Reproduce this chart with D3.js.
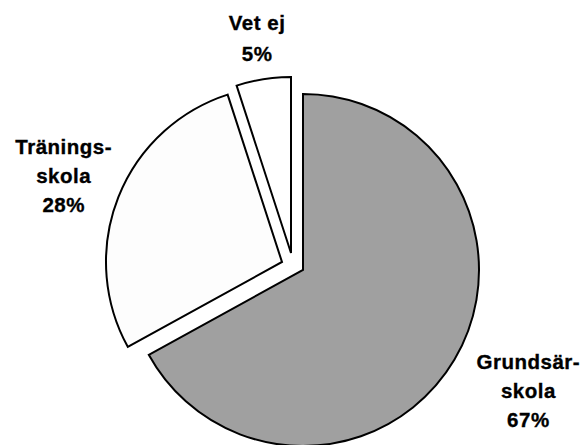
<!DOCTYPE html>
<html>
<head>
<meta charset="utf-8">
<script src="https://cdn.jsdelivr.net/npm/d3@7"></script>
<style>
  html, body { margin: 0; padding: 0; background: #fff; }
  svg { display: block; }
  text { font-family: "Liberation Sans", Arial, sans-serif; font-weight: bold; font-size: 20.5px; letter-spacing: 0.5px; fill: #000; stroke: #000; stroke-width: 0.35px; }
</style>
</head>
<body>
<script>
// ---- data ----
const categories = ["Grundsärskola", "Träningsskola", "Vet ej"];
const values = [67, 28, 5];
const labelLines = [["Grundsär-", "skola", "67%"], ["Tränings-", "skola", "28%"], ["Vet ej", "5%"]];

// ---- layout ----
const W = 583, H = 445;
const cx = 303, cy = 270, R = 176;
const explode = [[0, 0], [-21, -8], [-12, -17]];
const labelRadius = [256, 237, 217];
const labelNudge = [[5, -9], [2, 1], [0, 0]];
const lineHeight = [29, 29, 31];
const fills = ["#a0a0a0", "#fdfdfd", "#ffffff"];

const svg = d3.select("body").append("svg").attr("width", W).attr("height", H);

const pie = d3.pie().sort(null).value(d => d)(values);
const arc = d3.arc().innerRadius(0).outerRadius(R);

const g = svg.selectAll("g.slice").data(pie).enter().append("g")
  .attr("class", "slice")
  .attr("transform", (d, i) => `translate(${cx + explode[i][0]},${cy + explode[i][1]})`);

g.append("path")
  .attr("d", arc)
  .attr("fill", (d, i) => fills[i])
  .attr("stroke", "#000")
  .attr("stroke-width", 2)
  .attr("stroke-linejoin", "miter");

g.each(function(d, i) {
  const mid = (d.startAngle + d.endAngle) / 2;
  const lx = Math.sin(mid) * labelRadius[i] + labelNudge[i][0];
  const ly = -Math.cos(mid) * labelRadius[i] + labelNudge[i][1];
  const lines = labelLines[i];
  const lh = lineHeight[i];
  const t = d3.select(this).append("text")
    .attr("text-anchor", "middle")
    .attr("x", lx)
    .attr("y", ly - (lines.length - 1) * lh / 2 + 7);
  lines.forEach((s, k) => {
    t.append("tspan").attr("x", lx).attr("dy", k === 0 ? 0 : lh).text(s);
  });
});
</script>
</body>
</html>
